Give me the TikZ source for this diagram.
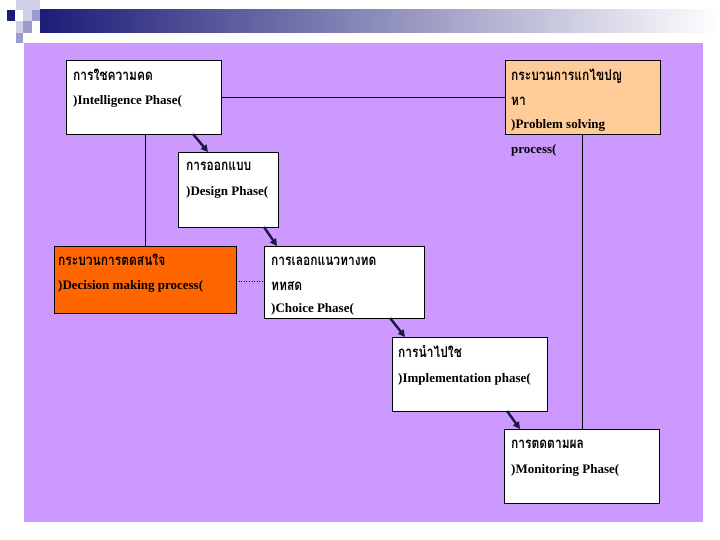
\documentclass[tikz,border=0pt]{standalone}
\usepackage{fontspec}
\setmainfont{Liberation Serif}
\newfontfamily\thaifont[Script=Thai,FakeStretch=0.8]{Loma}
\usetikzlibrary{arrows.meta,calc}
\definecolor{panel}{HTML}{CC99FF}
\definecolor{peach}{HTML}{FFCC99}
\definecolor{orng}{HTML}{FF6600}
\definecolor{navy}{HTML}{1C1C78}
\definecolor{sqlight}{HTML}{D0D0E6}
\definecolor{sqmid}{HTML}{9C9CCC}
\definecolor{arrowc}{HTML}{1A1A40}
\tikzset{
  box/.style={draw=black, line width=0.8pt, inner sep=0pt, outer sep=0pt, anchor=north west},
  lat/.style={anchor=base west, inner sep=0pt, font=\fontsize{13}{15}\selectfont\bfseries},
  th/.style={anchor=base west, inner sep=0pt, font=\fontsize{15}{17}\selectfont\thaifont\bfseries},
  flow/.style={draw=arrowc, line width=2.4pt, -{Triangle[length=7pt,width=7pt]}},
  link/.style={draw=black, line width=0.7pt},
  dots/.style={draw=black, line width=0.6pt, dotted}
}
\begin{document}
\begin{tikzpicture}[x=1pt,y=-1pt]
\useasboundingbox (0,0) rectangle (720,540);
\fill[white] (0,0) rectangle (720,540);
% header decoration
\fill[sqlight] (16,0) rectangle (40,10);
\fill[navy] (7,10) rectangle (15,21);
\fill[sqlight] (23,10) rectangle (32,21);
\fill[sqmid] (32,10) rectangle (40,21);
\fill[sqlight] (16,21) rectangle (23,33);
\fill[sqmid] (23,21) rectangle (32,33);
\fill[sqmid] (16,33) rectangle (23,43);
\shade[left color=navy, right color=white] (40,10) rectangle (720,33);
% panel
\fill[panel] (24,43) rectangle (703,522);
% boxes
\node[box, fill=white, minimum width=155pt, minimum height=74pt] (intel) at (66,60) {};
\node[box, fill=peach, minimum width=155pt, minimum height=74pt] (prob) at (505,60) {};
\node[box, fill=white, minimum width=100pt, minimum height=75pt] (design) at (178,152) {};
\node[box, fill=orng, minimum width=182pt, minimum height=67pt] (dec) at (54,246) {};
\node[box, fill=white, minimum width=160pt, minimum height=72pt] (choice) at (264,246) {};
\node[box, fill=white, minimum width=155pt, minimum height=74pt] (impl) at (392,337) {};
\node[box, fill=white, minimum width=155pt, minimum height=74pt] (mon) at (504,429) {};
% plain links
\draw[link] (intel.east) -- (prob.west);
\draw[link] ([xshift=79pt]intel.south west) -- ([xshift=91pt]dec.north west);
\draw[link] (prob.south) -- (prob.south |- mon.north);
\draw[dots] (dec.east |- 0,281) -- (choice.west |- 0,281);
% flow arrows
\draw[flow] ([xshift=127pt]intel.south west) -- ([xshift=30pt]design.north west);
\draw[flow] ([xshift=86pt]design.south west) -- ([xshift=13pt]choice.north west);
\draw[flow] ([xshift=126pt]choice.south west) -- ([xshift=13pt]impl.north west);
\draw[flow] ([xshift=115pt]impl.south west) -- ([xshift=16pt]mon.north west);
% texts
\node[th] (intel1) at (73,81) {การใชความคด};
\node[lat] (intel2) at (73,105) {)Intelligence Phase(};
\node[th] (prob1) at (511,81) {กระบวนการแกไขปญ};
\node[th] (prob2) at (511,106) {หา};
\node[lat] (prob3) at (511,129) {)Problem solving};
\node[lat] (prob4) at (511,154) {process(};
\node[th] (design1) at (186,171) {การออกแบบ};
\node[lat] (design2) at (186,196) {)Design Phase(};
\node[th] (dec1) at (58,265) {กระบวนการตดสนใจ};
\node[lat] (dec2) at (58,289) {)Decision making process(};
\node[th] (choice1) at (271,265) {การเลอกแนวทางทด};
\node[th] (choice2) at (271,290) {ททสด};
\node[lat] (choice3) at (271,312) {)Choice Phase(};
\node[th] (impl1) at (398,357) {การนำไปใช};
\node[lat] (impl2) at (398,382) {)Implementation phase(};
\node[th] (mon1) at (511,448) {การตดตามผล};
\node[lat] (mon2) at (511,473) {)Monitoring Phase(};
\end{tikzpicture}
\end{document}
